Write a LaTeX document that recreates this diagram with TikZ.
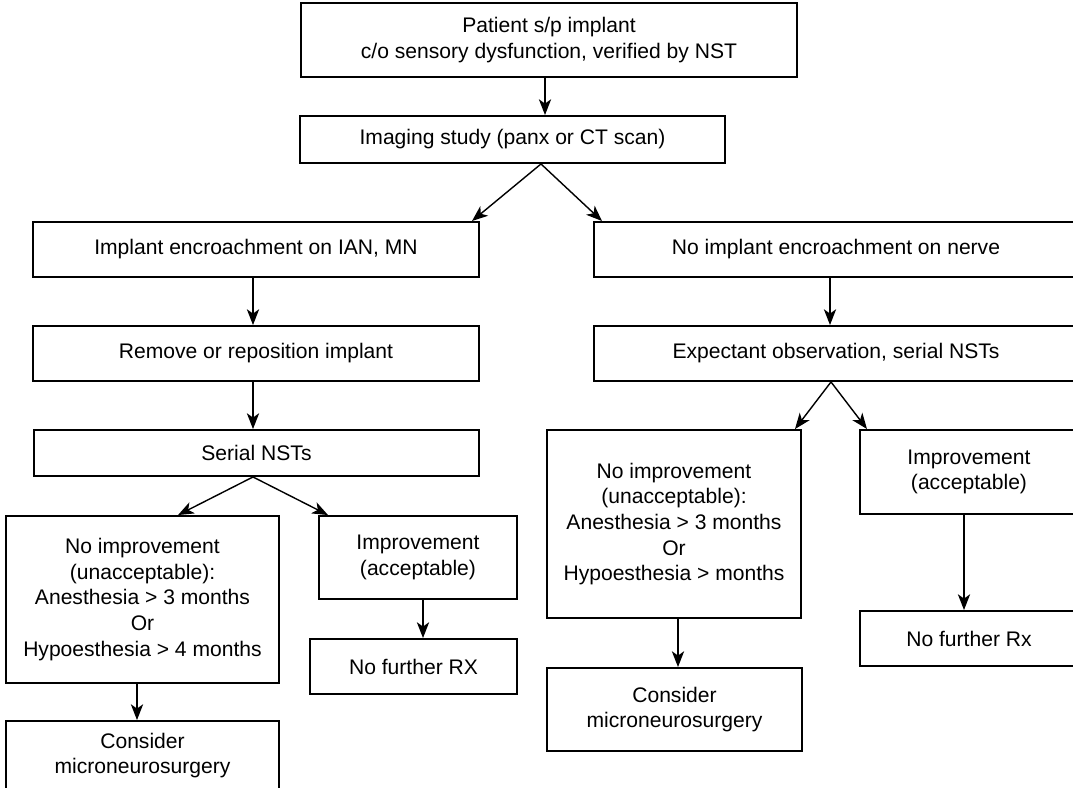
\documentclass[tikz,border=0pt]{standalone}
\usepackage{fontspec}
\setmainfont{Liberation Sans}
\usepackage{tikz}
\usetikzlibrary{arrows.meta,positioning,calc}

\tikzset{
  box/.style={draw,line width=1.1pt,inner sep=0pt,align=center,
    font=\fontsize{12}{14.6}\selectfont},
  arr/.style={-{Stealth[length=9pt,width=7pt,inset=2.5pt]},line width=0.8pt}
}

\begin{document}
\begin{tikzpicture}[x=0.02cm,y=-0.02cm]
  \clip (0,0) rectangle (1073,788);
  % top
  \node[box,minimum width=9.92cm,minimum height=1.48cm] (pat) at (549,40) {Patient s/p implant\\c/o sensory dysfunction, verified by NST};
  \node[box,minimum width=8.5cm,minimum height=0.94cm] (img) at (512.5,139.5) {Imaging study (panx or CT scan)};
  % left branch
  \node[box,minimum width=8.92cm,minimum height=1.1cm] (enc) at (256,249.5) {Implant encroachment on IAN, MN};
  \node[box,minimum width=8.92cm,minimum height=1.1cm] (rem) at (256,353.5) {Remove or reposition implant};
  \node[box,minimum width=8.9cm,minimum height=0.92cm] (ser) at (256.5,453) {Serial NSTs};
  \node[box,minimum width=5.46cm,minimum height=3.34cm] (noimpL) at (142.5,599.5) {No improvement\\(unacceptable):\\Anesthesia > 3 months\\Or\\Hypoesthesia > 4 months};
  \node[box,minimum width=3.96cm,minimum height=1.66cm] (impL) at (418,557.5) {Improvement\\(acceptable)};
  \node[box,minimum width=4.14cm,minimum height=1.1cm] (nofL) at (413.5,666.5) {No further RX};
  \node[box,minimum width=5.46cm,minimum height=1.38cm] (conL) at (142.5,755.5) {Consider\\microneurosurgery};
  % right branch
  \node[box,minimum width=9.68cm,minimum height=1.1cm] (noenc) at (836,249.5) {No implant encroachment on nerve};
  \node[box,minimum width=9.68cm,minimum height=1.1cm] (exp) at (836,353.5) {Expectant observation, serial NSTs};
  \node[box,minimum width=5.08cm,minimum height=3.76cm] (noimpR) at (674,524) {No improvement\\(unacceptable):\\Anesthesia > 3 months\\Or\\Hypoesthesia > months};
  \node[box,minimum width=4.36cm,minimum height=1.68cm] (impR) at (969,472) {Improvement\\(acceptable)};
  \node[box,minimum width=4.36cm,minimum height=1.1cm] (nofR) at (969,638.5) {No further Rx};
  \node[box,minimum width=5.1cm,minimum height=1.66cm] (conR) at (674.5,709.5) {Consider\\microneurosurgery};

  % arrows
  \draw[arr] (pat.south -| 545,0) -- (img.north -| 545,0);
  \draw[arr] (img.south -| 541,0) -- (enc.north -| 472,0);
  \draw[arr] (img.south -| 541,0) -- (noenc.north -| 602,0);
  \draw[arr] (enc.south -| 253,0) -- (rem.north -| 253,0);
  \draw[arr] (rem.south -| 253,0) -- (ser.north -| 253,0);
  \draw[arr] (ser.south -| 253,0) -- (noimpL.north -| 178,0);
  \draw[arr] (ser.south -| 253,0) -- (impL.north -| 328,0);
  \draw[arr] (noimpL.south -| 137,0) -- (conL.north -| 137,0);
  \draw[arr] (impL.south -| 423,0) -- (nofL.north -| 423,0);
  \draw[arr] (noenc.south -| 830,0) -- (exp.north -| 830,0);
  \draw[arr] (exp.south -| 831,0) -- (noimpR.north -| 795,0);
  \draw[arr] (exp.south -| 831,0) -- (impR.north -| 867,0);
  \draw[arr] (noimpR.south -| 678,0) -- (conR.north -| 678,0);
  \draw[arr] (impR.south -| 964,0) -- (nofR.north -| 964,0);
\end{tikzpicture}
\end{document}
